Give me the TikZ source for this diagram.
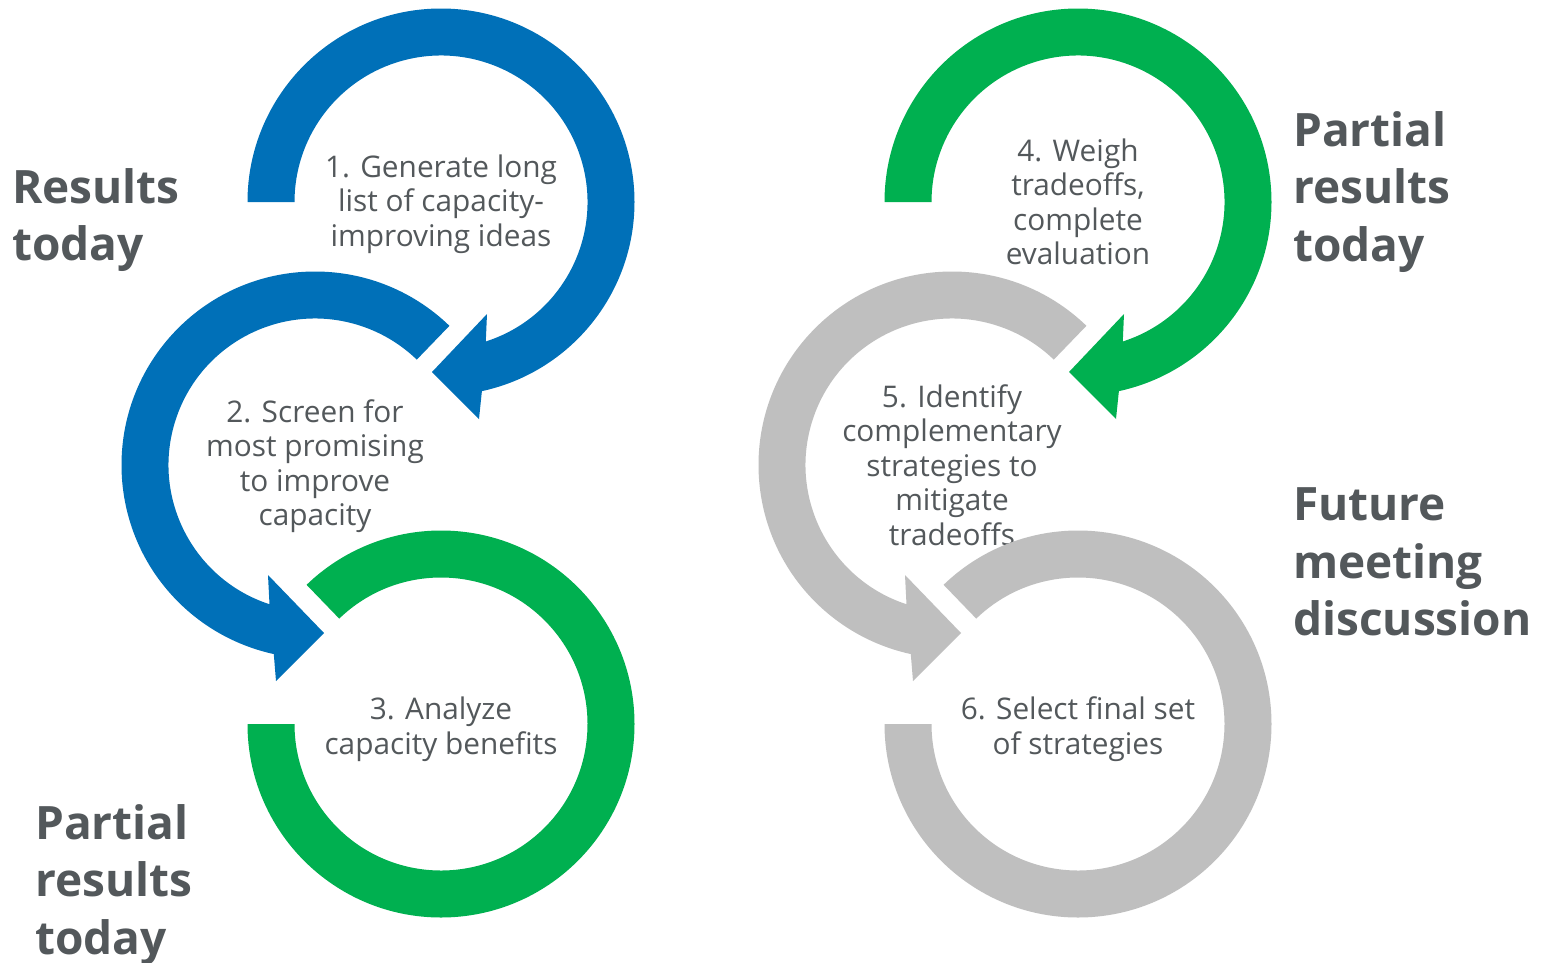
\documentclass[tikz,border=0pt]{standalone}
\usepackage{fontspec}
\setmainfont{Open Sans}
\definecolor{cblue}{HTML}{0070B8}
\definecolor{cgreen}{HTML}{00B050}
\definecolor{cgray}{HTML}{BFBFBF}
\definecolor{ctext}{HTML}{53585B}
\begin{document}
\begin{tikzpicture}[x=1pt,y=1pt,
  steptext/.style={text=ctext, align=center, font=\fontsize{29.8}{34.5}\selectfont, inner sep=0pt},
  sidelabel/.style={text=ctext, align=left, anchor=west, font=\bfseries\fontsize{46}{57.5}\selectfont, inner sep=0pt},
  ringA/.pic={\fill[#1] (-193.5,0) arc[start angle=180, end angle=-77.8, radius=193.5pt]
      -- (38,-217) -- (-9,-170) -- (46,-112) -- (-72.2:146.5pt)
      arc[start angle=-72.2, end angle=180, radius=146.5pt] -- cycle;},
  ringB/.pic={\fill[#1] (46:193.5pt) arc[start angle=46, end angle=257.7, radius=193.5pt]
      -- (-39,-216) -- (9,-168) -- (-47,-110) -- (251.9:146.5pt)
      arc[start angle=251.9, end angle=46, radius=146.5pt] -- cycle;},
  ringC/.pic={\fill[#1] (-193.5,0) arc[start angle=180, end angle=494, radius=193.5pt]
      -- (494:146.5pt) arc[start angle=494, end angle=180, radius=146.5pt] -- cycle;}
]
\useasboundingbox (0,0) rectangle (1545,-962);
\fill[white] (0,0) rectangle (1545,-962);

% left group
\pic at (441,-202) {ringA=cblue};
\pic at (315,-465) {ringB=cblue};
\pic at (441,-724) {ringC=cgreen};
\node[steptext] (t1) at (441,-204) {1. Generate long\\list of capacity-\\improving ideas};
\node[steptext] (t2) at (315,-466) {2. Screen for\\most promising\\to improve\\capacity};
\node[steptext] (t3) at (441,-729) {3. Analyze\\capacity benefits};

% right group
\pic at (1078,-202) {ringA=cgreen};
\pic at (952,-465) {ringB=cgray};
\node[steptext] (t5) at (952,-465) {5. Identify\\complementary\\strategies to\\mitigate\\tradeoffs};
\pic at (1078,-724) {ringC=cgray};
\node[steptext] (t4) at (1078,-202) {4. Weigh\\tradeoffs,\\complete\\evaluation};
\node[steptext] (t6) at (1078,-729) {6. Select final set\\of strategies};

% side labels
\node[sidelabel] (l1) at (12,-220) {Results\\today};
\node[sidelabel] (l2) at (35,-885) {Partial\\results\\today};
\node[sidelabel] (l3) at (1293,-192) {Partial\\results\\today};
\node[sidelabel] (l4) at (1293,-562) {Future\\meeting\\discussion};
\end{tikzpicture}
\end{document}
